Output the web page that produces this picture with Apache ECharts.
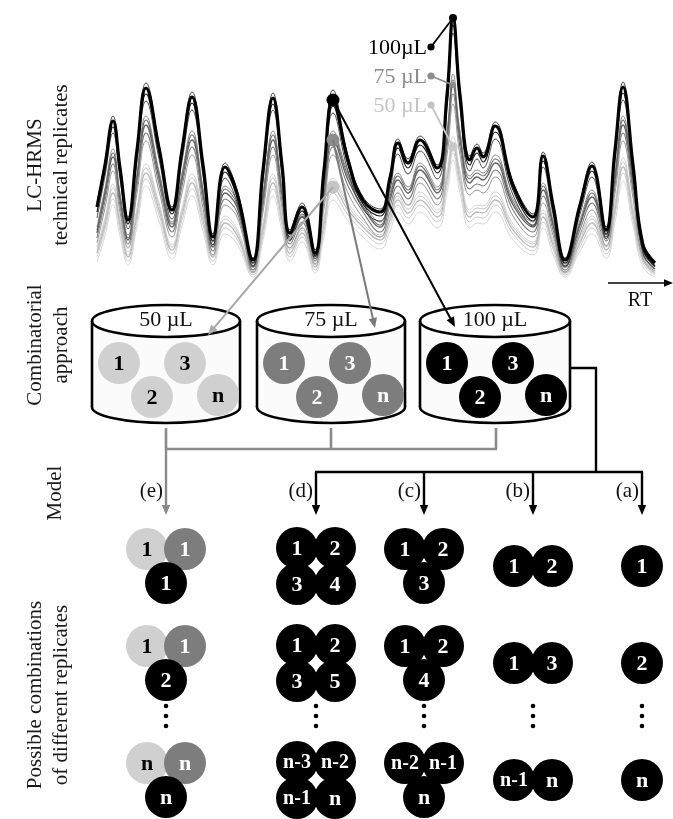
<!DOCTYPE html>
<html>
<head>
<meta charset="utf-8">
<script src="https://cdn.jsdelivr.net/npm/echarts@6/dist/echarts.min.js"></script>
<style>html,body{margin:0;padding:0;background:#fff}#main{width:673px;height:819px}</style>
</head>
<body>
<div id="main"></div>
<script>
// Retention time (arbitrary units) shared by every chromatogram trace
const retentionTime = [0,0.8,1.6,2.3,3.1,4.0,4.9,6.2,7.5,8.5,9.5,10.6,11.6,12.8,14.0,15.6,16.6,17.6,18.5,19.3,20.5,21.8,22.7,23.6,25.1,26.6,28.3,29.3,30.1,31.1,32.3,34.0,35.0,35.6,36.3,37.3,38.0,38.6,39.8,41.6,43.6,44.6,45.6,46.8,48.3,49.5,50.9,51.8,52.6,53.6,54.6,55.8];

// 100 µL injections (replicate traces)
const int100A = [77,119,164,116,63,134,197,136,73,134,188,119,46,117,90,22,114,187,119,50,77,30,114,190,124,83,71,106,141,121,144,115,190,266,190,124,136,127,158,98,66,128,78,22,78,118,53,134,198,119,38,19];
const int100B = [73,115,159,112,60,130,192,132,70,130,183,115,43,113,87,20,110,182,115,47,73,27,110,180,120,80,68,102,137,117,140,112,185,262,185,120,132,123,154,95,63,124,75,20,75,114,50,130,193,115,35,17];
const int100C = [68,110,153,107,56,125,186,127,66,125,177,110,39,108,83,17,105,176,110,43,69,24,105,174,115,76,64,97,132,112,135,107,179,255,179,115,127,118,148,90,59,119,71,17,71,109,46,125,187,110,31,14];
const int100D = [62,104,147,101,51,119,179,121,61,119,170,104,35,102,78,14,99,170,104,39,64,21,99,167,109,71,59,91,126,106,129,101,172,247,172,109,121,112,141,85,54,113,66,14,66,103,41,119,180,104,27,11];

// 75 µL injections
const int75A = [53,92,131,87,45,107,164,109,58,107,149,92,38,94,79,16,87,149,92,45,69,27,92,149,107,79,58,87,107,93,117,93,149,206,149,104,110,107,125,81,58,97,60,16,60,90,48,107,164,102,34,15];
const int75B = [50,89,127,84,42,104,160,106,56,104,145,89,35,91,76,14,84,145,89,42,66,25,89,145,104,76,55,84,104,90,114,90,145,200,145,101,107,104,121,78,55,94,57,14,57,87,45,104,160,99,32,14];
const int75C = [47,85,123,80,40,100,155,102,53,100,140,85,33,87,73,13,80,140,85,40,63,23,85,140,100,73,53,80,100,87,110,87,140,195,140,97,103,100,117,75,53,90,55,13,55,83,43,100,155,95,30,13];
const int75D = [42,79,116,74,36,94,147,96,48,94,133,79,29,81,68,10,74,133,79,36,58,19,79,133,94,68,48,74,94,81,103,81,133,186,133,91,96,94,110,70,48,84,50,10,50,77,39,94,147,89,26,11];
const int75E = [37,72,109,68,32,87,139,89,43,87,125,72,25,75,63,8,68,125,72,32,52,16,72,125,87,62,43,68,87,75,97,75,125,176,125,85,90,87,103,64,43,77,45,8,45,70,34,87,139,82,22,9];

// 50 µL injections
const int50A = [33,62,96,62,28,72,116,77,35,72,106,67,28,64,51,10,57,106,67,32,53,17,62,102,77,59,45,67,88,74,88,70,109,143,109,70,75,74,88,56,38,70,41,10,43,64,35,77,122,72,24,10];
const int50B = [30,59,92,59,25,69,112,74,33,69,102,64,25,61,48,8,54,102,64,30,50,15,59,98,74,56,43,64,84,71,84,67,105,138,105,67,72,71,84,53,36,67,38,8,40,61,33,74,118,69,22,8];
const int50C = [27,55,87,55,23,65,107,70,30,65,97,60,23,57,45,7,50,97,60,27,47,13,55,93,70,53,40,60,80,67,80,63,100,133,100,63,68,67,80,50,33,63,35,7,37,57,30,70,113,65,20,7];
const int50D = [23,50,81,50,19,60,101,65,26,60,91,55,19,52,41,5,45,91,55,23,43,10,50,87,65,49,36,55,75,62,75,58,94,127,94,58,63,62,75,46,29,58,31,5,33,52,26,65,107,60,17,5];
const int50E = [18,44,75,44,15,54,94,59,21,54,84,49,15,46,36,3,40,84,49,19,38,7,44,80,59,43,31,49,68,56,68,52,87,120,87,52,57,56,68,40,25,52,26,3,29,46,22,58,99,54,13,3];

// Highlighted peaks (indices into retentionTime)
const pooledPeakIndex = 23;
const legendPeakIndex = 33;

// Volumes and labels
const volumeLabels = ['50 µL', '75 µL', '100 µL'];
const legendLabels = ['100µL', '75 µL', '50 µL'];
const cylinderReplicates = ['1', '3', '2', 'n'];
const modelLabels = ['(e)', '(d)', '(c)', '(b)', '(a)'];

// Replicate combinations per model, three rows each
const modelE = [['1','1','1'], ['1','1','2'], ['n','n','n']];
const modelD = [['1','2','3','4'], ['1','2','3','5'], ['n-3','n-2','n-1','n']];
const modelC = [['1','2','3'], ['1','2','4'], ['n-2','n-1','n']];
const modelB = [['1','2'], ['1','3'], ['n-1','n']];
const modelA = [['1'], ['2'], ['n']];

const sideLabels = [['LC-HRMS', 'technical replicates'], ['Combinatorial', 'approach'], ['Model'], ['Possible combinations', 'of different replicates']];

// ---------------------------------------------------------------
const SERIF = "'Liberation Serif', 'Times New Roman', serif";
const C_DARK = '#000000', C_MID = '#7d7d7d', C_LIGHT = '#d0d0d0';

const chart = echarts.init(document.getElementById('main'), null, { renderer: 'canvas' });

function trace(data, color, width, z) {
  return {
    type: 'line', data: retentionTime.map((t, i) => [t, data[i]]),
    smooth: 0.45, symbol: 'none', showSymbol: false, silent: true,
    lineStyle: { color, width }, z, animation: false
  };
}

function dot(index, data, color, size, z) {
  return {
    type: 'scatter', data: [[retentionTime[index], data[index]]], symbolSize: size,
    itemStyle: { color, opacity: 1 }, z, silent: true, animation: false
  };
}

chart.setOption({
  animation: false,
  backgroundColor: '#ffffff',
  grid: { left: 97, top: 0, width: 558, height: 280 },
  xAxis: { type: 'value', min: 0, max: 55.8, show: false },
  yAxis: { type: 'value', min: 0, max: 280, show: false },
  series: [
    trace(int50A, '#d2d2d2', 1, 2),
    trace(int50B, '#c6c6c6', 1, 2),
    trace(int50C, '#bcbcbc', 1.3, 2),
    trace(int50D, '#c9c9c9', 1, 2),
    trace(int50E, '#d6d6d6', 1, 2),
    trace(int75A, '#8a8a8a', 1, 3),
    trace(int75B, '#707070', 1.1, 3),
    trace(int75C, '#636363', 1.4, 3),
    trace(int75D, '#7c7c7c', 1.1, 3),
    trace(int75E, '#969696', 1, 3),
    trace(int100A, '#2a2a2a', 0.9, 4),
    trace(int100C, '#1a1a1a', 1.2, 4),
    trace(int100D, '#333333', 0.9, 4),
    trace(int100B, '#000000', 3.2, 4),
    dot(pooledPeakIndex, int50C, '#c6c6c6', 13, 20),
    dot(pooledPeakIndex, int75C, '#8c8c8c', 13, 20),
    dot(pooledPeakIndex, int100B, '#000', 13, 21),
    dot(legendPeakIndex, int50C, '#c9c9c9', 9, 20),
    dot(legendPeakIndex, int75C, '#8c8c8c', 6, 20),
    dot(legendPeakIndex, int100B, '#000', 8, 21)
  ]
});

const px = (idx, arr) => chart.convertToPixel({ gridIndex: 0 }, [retentionTime[idx], arr[idx]]);

// ---------------- drawing helpers ----------------
const G = [];
function text(str, x, y, size, color, o = {}) {
  G.push({
    type: 'text', x, y, rotation: o.rot || 0, z: 120,
    style: {
      text: str, x: 0, y: 0,
      font: `${o.weight || 'normal'} ${size}px ${SERIF}`,
      fill: color, textAlign: o.align || 'center', align: o.align || 'center',
      textVerticalAlign: 'middle', verticalAlign: 'middle'
    }
  });
}
function line(x1, y1, x2, y2, color, w) {
  G.push({ type: 'line', z: 100, shape: { x1, y1, x2, y2 }, style: { stroke: color, lineWidth: w } });
}
function poly(points, color, w) {
  G.push({ type: 'polyline', z: 100, shape: { points }, style: { stroke: color, lineWidth: w, fill: null } });
}
function arrow(x1, y1, x2, y2, color, w, head) {
  const dx = x2 - x1, dy = y2 - y1, len = Math.hypot(dx, dy);
  const ux = dx / len, uy = dy / len;
  const bx = x2 - ux * head, by = y2 - uy * head, hw = head * 0.42;
  line(x1, y1, bx + ux, by + uy, color, w);
  G.push({ type: 'polygon', z: 101, shape: { points: [[x2, y2], [bx - uy * hw, by + ux * hw], [bx + uy * hw, by - ux * hw]] }, style: { fill: color } });
}
function disc(cx, cy, r, fill, z) {
  G.push({ type: 'circle', z: z || 110, shape: { cx, cy, r }, style: { fill } });
}

// ---------------- left-hand row titles ----------------
const rowCenters = [165, 345, 493, 695];
sideLabels.forEach((lines, k) => {
  if (lines.length === 1) {
    text(lines[0], 55, rowCenters[k], 21, '#1a1a1a', { rot: Math.PI / 2 });
  } else {
    text(lines[0], 35, rowCenters[k], 21, '#1a1a1a', { rot: Math.PI / 2 });
    text(lines[1], 61, rowCenters[k], 21, '#1a1a1a', { rot: Math.PI / 2 });
  }
});

// ---------------- retention-time arrow ----------------
arrow(608, 283, 673, 283, '#000', 1.6, 9);
text('RT', 640, 301, 20, '#111');

// ---------------- legend at the tallest peak ----------------
const legendColors = ['#000', '#8c8c8c', '#c4c4c4'];
const legendSeries = [int100B, int75C, int50C];
const legendRows = [48, 77, 106];
legendLabels.forEach((lab, k) => {
  const tip = px(legendPeakIndex, legendSeries[k]);
  text(lab, 427, legendRows[k], 22, legendColors[k], { align: 'right' });
  line(431, legendRows[k] - 1, tip[0], tip[1], legendColors[k], 1.8);
  disc(431, legendRows[k] - 1, 3.6, legendColors[k], 102);
});

// ---------------- cylinders ----------------
const cylEdges = [[92, 240], [257, 405], [420, 570]];
const cylTop = 321, cylBottom = 407, cylRy = 16;
const circleFill = [C_LIGHT, C_MID, C_DARK];
const circleInk = ['#000', '#fff', '#fff'];
const cylSlots = [[27, 363], [93, 363], [60, 397], [126, 395]];
function cylReplicatesDraw(L, k) {
  cylinderReplicates.forEach((lab, j) => {
    const [ox, oy] = cylSlots[j];
    disc(L + ox, oy, 21, circleFill[k]);
    text(lab, L + ox, oy + 1, 22, circleInk[k], { weight: 'bold' });
  });
}
cylEdges.forEach(([L, R], k) => {
  const cx = (L + R) / 2, rx = (R - L) / 2;
  G.push({ type: 'ellipse', z: 90, shape: { cx, cy: cylBottom, rx, ry: cylRy }, style: { fill: '#fbfbfb', stroke: '#000', lineWidth: 2.6 } });
  G.push({ type: 'rect', z: 91, shape: { x: L, y: cylTop, width: R - L, height: cylBottom - cylTop }, style: { fill: '#fbfbfb' } });
  line(L, cylTop, L, cylBottom, '#000', 2.6);
  line(R, cylTop, R, cylBottom, '#000', 2.6);
  G.push({ type: 'ellipse', z: 92, shape: { cx, cy: cylTop, rx, ry: cylRy }, style: { fill: '#ffffff', stroke: '#000', lineWidth: 2.6 } });
  text(volumeLabels[k], cx, cylTop - 1, 22, '#111');
  cylReplicatesDraw(L, k);
});

// ---------------- arrows from the pooled peak into each cylinder ----------------
const pDark = px(pooledPeakIndex, int100B);
const pMid = px(pooledPeakIndex, int75C);
const pLight = px(pooledPeakIndex, int50C);
arrow(pLight[0], pLight[1], 208, 335, '#a9a9a9', 2, 10);
arrow(pMid[0], pMid[1], 375, 328, '#7a7a7a', 2, 10);
arrow(pDark[0], pDark[1], 455, 327, '#000', 2, 10);

// ---------------- connectors to the models ----------------
const colX = [166, 316, 424, 533, 642];
const tipY = 515;
// grey: all three volumes feed model (e)
[166, 331, 496].forEach(x => line(x, 428, x, 449, '#8a8a8a', 2.6));
line(165, 449, 497, 449, '#8a8a8a', 2.6);
arrow(166, 449, 166, tipY, '#8a8a8a', 2.4, 10);
// black: the 100 µL set feeds models (a)–(d)
poly([[571, 368], [596, 368], [596, 472]], '#000', 2.4);
line(315, 472, 643, 472, '#000', 2.4);
colX.slice(1).forEach(x => arrow(x, 472, x, tipY, '#000', 2.4, 10));
modelLabels.forEach((lab, k) => text(lab, colX[k] - 3, 491, 21, '#111', { align: 'right' }));

// ---------------- replicate combinations ----------------
const rowY = [566, 663, 780];
const dotsY = [706, 716, 726];
const layouts = {
  1: [[0, 0]],
  2: [[-19, 0], [19, 0]],
  3: [[-19, -17], [19, -17], [0, 17]],
  4: [[-19, -18], [19, -18], [-19, 18], [19, 18]]
};
function drawModel(rows, cx, fills, inks) {
  rows.forEach((labels, r) => {
    const pos = layouts[labels.length];
    labels.forEach((lab, j) => {
      disc(cx + pos[j][0], rowY[r] + pos[j][1], 21, fills[j], 110 + j);
    });
    labels.forEach((lab, j) => {
      text(lab, cx + pos[j][0], rowY[r] + pos[j][1] + 1, lab.length > 1 ? 20 : 22, inks[j], { weight: 'bold' });
    });
  });
  dotsY.forEach(y => disc(cx, y, 2.3, '#000', 110));
}
drawModel(modelE, colX[0], [C_LIGHT, C_MID, C_DARK], ['#000', '#fff', '#fff']);
drawModel(modelD, colX[1], [C_DARK, C_DARK, C_DARK, C_DARK], ['#fff', '#fff', '#fff', '#fff']);
drawModel(modelC, colX[2], [C_DARK, C_DARK, C_DARK], ['#fff', '#fff', '#fff']);
drawModel(modelB, colX[3], [C_DARK, C_DARK], ['#fff', '#fff']);
drawModel(modelA, colX[4], [C_DARK], ['#fff']);

chart.setOption({ graphic: { elements: G } });
</script>
</body>
</html>
